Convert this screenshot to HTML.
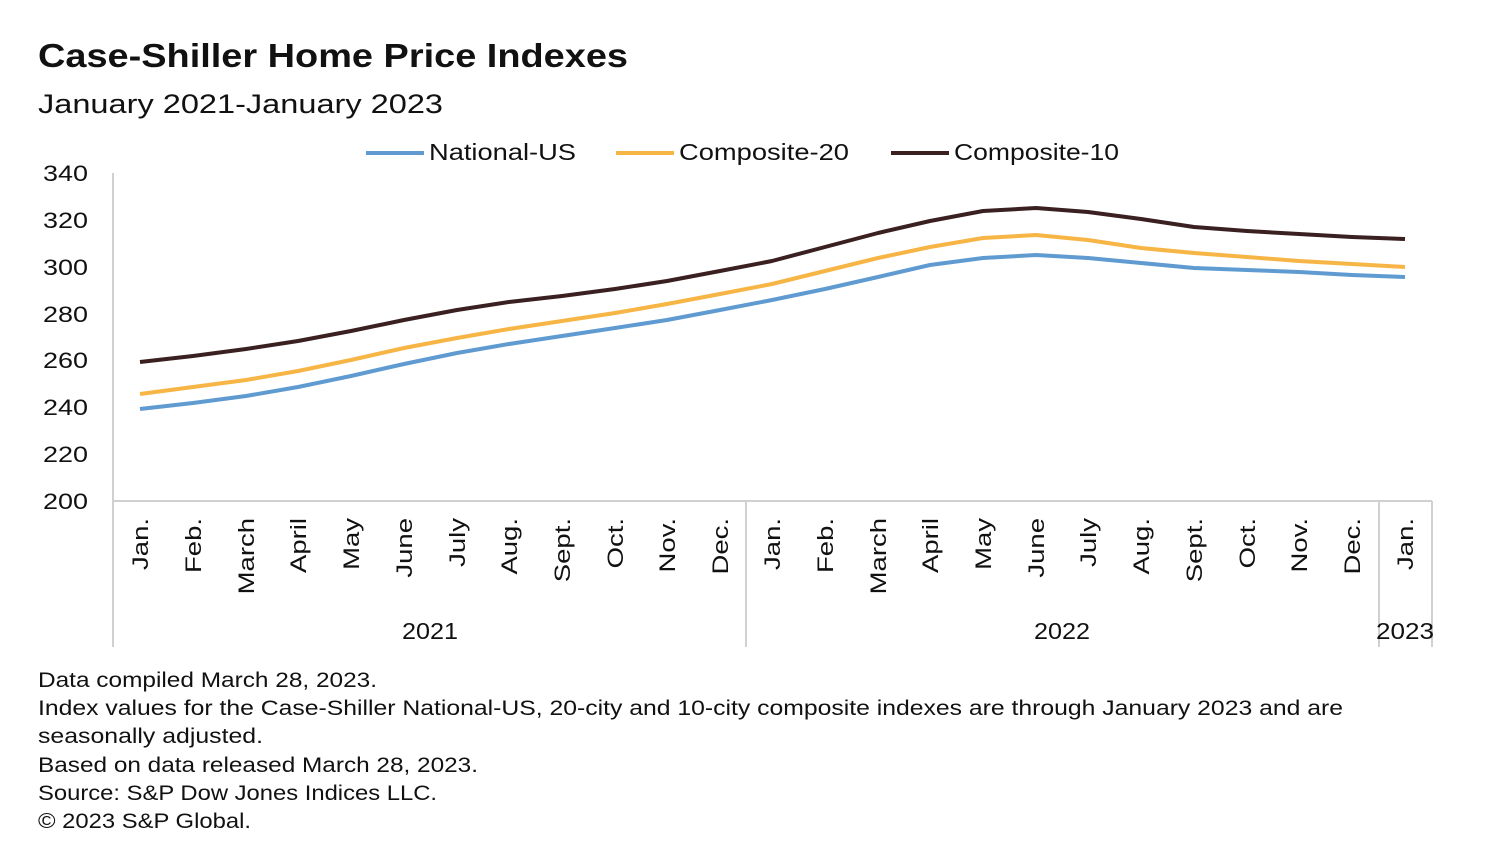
<!DOCTYPE html>
<html><head><meta charset="utf-8"><style>
body{margin:0;background:#fff;width:1488px;height:864px;overflow:hidden;font-family:"Liberation Sans",sans-serif;color:#111}
svg{position:absolute;left:0;top:0}
</style></head><body>
<svg width="1488" height="864" xmlns="http://www.w3.org/2000/svg" font-family="Liberation Sans, sans-serif" fill="#111">
<text x="38" y="67" font-size="33" font-weight="bold" textLength="590" lengthAdjust="spacingAndGlyphs">Case-Shiller Home Price Indexes</text>
<text x="38" y="113" font-size="27" textLength="405" lengthAdjust="spacingAndGlyphs">January 2021-January 2023</text>
<line x1="366" y1="153" x2="424" y2="153" stroke="#5f9bd0" stroke-width="4"/>
<text x="429" y="160" font-size="23" textLength="147" lengthAdjust="spacingAndGlyphs">National-US</text>
<line x1="616" y1="153" x2="674" y2="153" stroke="#f6b545" stroke-width="4"/>
<text x="679" y="160" font-size="23" textLength="170" lengthAdjust="spacingAndGlyphs">Composite-20</text>
<line x1="891" y1="153" x2="949" y2="153" stroke="#3a2020" stroke-width="4"/>
<text x="954" y="160" font-size="23" textLength="165" lengthAdjust="spacingAndGlyphs">Composite-10</text>
<g font-size="22" text-anchor="end">
<text x="88" y="181" textLength="45" lengthAdjust="spacingAndGlyphs">340</text><text x="88" y="228" textLength="45" lengthAdjust="spacingAndGlyphs">320</text><text x="88" y="275" textLength="45" lengthAdjust="spacingAndGlyphs">300</text><text x="88" y="322" textLength="45" lengthAdjust="spacingAndGlyphs">280</text><text x="88" y="368" textLength="45" lengthAdjust="spacingAndGlyphs">260</text><text x="88" y="415" textLength="45" lengthAdjust="spacingAndGlyphs">240</text><text x="88" y="462" textLength="45" lengthAdjust="spacingAndGlyphs">220</text><text x="88" y="509" textLength="45" lengthAdjust="spacingAndGlyphs">200</text>
</g>
<g stroke="#d0d0d0" stroke-width="2">
<line x1="113" y1="173" x2="113" y2="647"/>
<line x1="113" y1="501" x2="1432" y2="501"/>
<line x1="746" y1="501" x2="746" y2="647"/>
<line x1="1379" y1="501" x2="1379" y2="647"/>
<line x1="1432" y1="501" x2="1432" y2="647"/>
</g>
<g font-size="22" text-anchor="end">
<text transform="translate(148,518) rotate(-90) scale(1.25,1)">Jan.</text>
<text transform="translate(201,518) rotate(-90) scale(1.25,1)">Feb.</text>
<text transform="translate(254,518) rotate(-90) scale(1.25,1)">March</text>
<text transform="translate(306,518) rotate(-90) scale(1.25,1)">April</text>
<text transform="translate(359,518) rotate(-90) scale(1.25,1)">May</text>
<text transform="translate(412,518) rotate(-90) scale(1.25,1)">June</text>
<text transform="translate(465,518) rotate(-90) scale(1.25,1)">July</text>
<text transform="translate(517,518) rotate(-90) scale(1.25,1)">Aug.</text>
<text transform="translate(570,518) rotate(-90) scale(1.25,1)">Sept.</text>
<text transform="translate(623,518) rotate(-90) scale(1.25,1)">Oct.</text>
<text transform="translate(675,518) rotate(-90) scale(1.25,1)">Nov.</text>
<text transform="translate(728,518) rotate(-90) scale(1.25,1)">Dec.</text>
<text transform="translate(780,518) rotate(-90) scale(1.25,1)">Jan.</text>
<text transform="translate(833,518) rotate(-90) scale(1.25,1)">Feb.</text>
<text transform="translate(886,518) rotate(-90) scale(1.25,1)">March</text>
<text transform="translate(938,518) rotate(-90) scale(1.25,1)">April</text>
<text transform="translate(991,518) rotate(-90) scale(1.25,1)">May</text>
<text transform="translate(1044,518) rotate(-90) scale(1.25,1)">June</text>
<text transform="translate(1096,518) rotate(-90) scale(1.25,1)">July</text>
<text transform="translate(1149,518) rotate(-90) scale(1.25,1)">Aug.</text>
<text transform="translate(1202,518) rotate(-90) scale(1.25,1)">Sept.</text>
<text transform="translate(1255,518) rotate(-90) scale(1.25,1)">Oct.</text>
<text transform="translate(1307,518) rotate(-90) scale(1.25,1)">Nov.</text>
<text transform="translate(1360,518) rotate(-90) scale(1.25,1)">Dec.</text>
<text transform="translate(1413,518) rotate(-90) scale(1.25,1)">Jan.</text>
</g>
<g font-size="23" text-anchor="middle">
<text x="430" y="639" textLength="56" lengthAdjust="spacingAndGlyphs">2021</text><text x="1062" y="639" textLength="56" lengthAdjust="spacingAndGlyphs">2022</text><text x="1405" y="639" textLength="58" lengthAdjust="spacingAndGlyphs">2023</text>
</g>
<g fill="none" stroke-width="4" stroke-linejoin="round">
<polyline stroke="#5f9bd0" points="140,409 193,403 246,396 298,387 351,376 404,364 457,353 509,344 562,336 615,328 667,320 720,310 772,300 825,289 878,277 930,265 983,258 1036,255 1088,258 1141,263 1194,268 1247,270 1299,272 1352,275 1405,277"/>
<polyline stroke="#f6b545" points="140,394 193,387 246,380 298,371 351,360 404,348 457,338 509,329 562,321 615,313 667,304 720,294 772,284 825,271 878,258 930,247 983,238 1036,235 1088,240 1141,248 1194,253 1247,257 1299,261 1352,264 1405,267"/>
<polyline stroke="#3a2020" points="140,362 193,356 246,349 298,341 351,331 404,320 457,310 509,302 562,296 615,289 667,281 720,271 772,261 825,247 878,233 930,221 983,211 1036,208 1088,212 1141,219 1194,227 1247,231 1299,234 1352,237 1405,239"/>
</g>
<g font-size="21" lengthAdjust="spacingAndGlyphs">
<text x="38" y="687" textLength="339" lengthAdjust="spacingAndGlyphs">Data compiled March 28, 2023.</text>
<text x="38" y="715" textLength="1305" lengthAdjust="spacingAndGlyphs">Index values for the Case-Shiller National-US, 20-city and 10-city composite indexes are through January 2023 and are</text>
<text x="38" y="743" textLength="225" lengthAdjust="spacingAndGlyphs">seasonally adjusted.</text>
<text x="38" y="772" textLength="440" lengthAdjust="spacingAndGlyphs">Based on data released March 28, 2023.</text>
<text x="38" y="800" textLength="399" lengthAdjust="spacingAndGlyphs">Source: S&amp;P Dow Jones Indices LLC.</text>
<text x="38" y="828" textLength="213" lengthAdjust="spacingAndGlyphs">© 2023 S&amp;P Global.</text>
</g>
</svg>
</body></html>
